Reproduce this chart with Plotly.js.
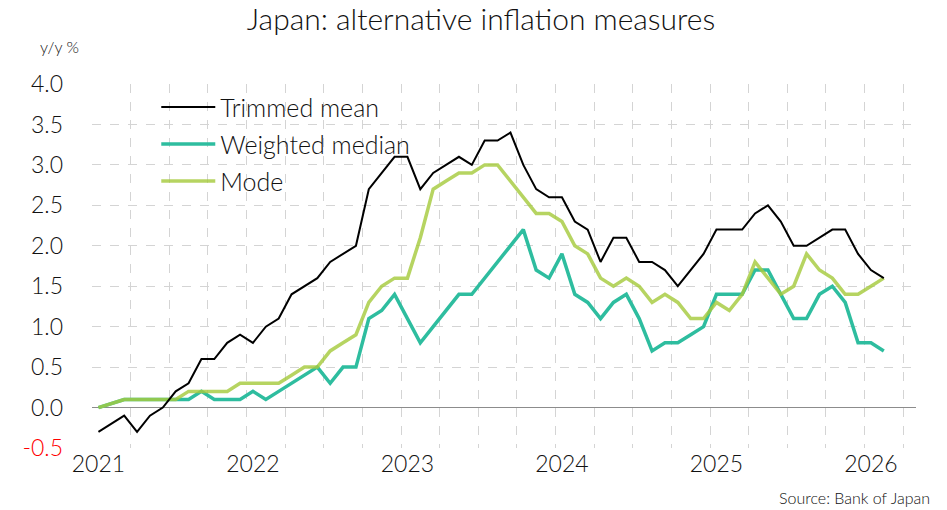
<!DOCTYPE html>
<html>
<head>
<meta charset="utf-8">
<script src="https://cdn.plot.ly/plotly-3.0.1.min.js"></script>
<style>
  html, body { margin: 0; padding: 0; background: #fff; }
  #chart { width: 947px; height: 510px; }
</style>
</head>
<body>
<div id="chart"></div>
<script>
// Monthly observations, Jan 2021 .. Feb 2026 (y/y %)
const months = [
  '2021-01','2021-02','2021-03','2021-04','2021-05','2021-06','2021-07','2021-08','2021-09','2021-10','2021-11','2021-12',
  '2022-01','2022-02','2022-03','2022-04','2022-05','2022-06','2022-07','2022-08','2022-09','2022-10','2022-11','2022-12',
  '2023-01','2023-02','2023-03','2023-04','2023-05','2023-06','2023-07','2023-08','2023-09','2023-10','2023-11','2023-12',
  '2024-01','2024-02','2024-03','2024-04','2024-05','2024-06','2024-07','2024-08','2024-09','2024-10','2024-11','2024-12',
  '2025-01','2025-02','2025-03','2025-04','2025-05','2025-06','2025-07','2025-08','2025-09','2025-10','2025-11','2025-12',
  '2026-01','2026-02'
];

const trimmedMean = [
  -0.3,-0.2,-0.1,-0.3,-0.1,0.0,0.2,0.3,0.6,0.6,0.8,0.9,
  0.8,1.0,1.1,1.4,1.5,1.6,1.8,1.9,2.0,2.7,2.9,3.1,
  3.1,2.7,2.9,3.0,3.1,3.0,3.3,3.3,3.4,3.0,2.7,2.6,
  2.6,2.3,2.2,1.8,2.1,2.1,1.8,1.8,1.7,1.5,1.7,1.9,
  2.2,2.2,2.2,2.4,2.5,2.3,2.0,2.0,2.1,2.2,2.2,1.9,
  1.7,1.6
];

const weightedMedian = [
  0.0,null,0.1,0.1,0.1,0.1,0.1,0.1,0.2,0.1,0.1,0.1,
  0.2,0.1,0.2,0.3,0.4,0.5,0.3,0.5,0.5,1.1,1.2,1.4,
  1.1,0.8,1.0,1.2,1.4,1.4,1.6,1.8,2.0,2.2,1.7,1.6,
  1.9,1.4,1.3,1.1,1.3,1.4,1.1,0.7,0.8,0.8,0.9,1.0,
  1.4,1.4,1.4,1.7,1.7,1.4,1.1,1.1,1.4,1.5,1.3,0.8,
  0.8,0.7
];

const modeSeries = [
  0.0,null,0.1,0.1,0.1,0.1,0.1,0.2,0.2,0.2,0.2,0.3,
  0.3,0.3,0.3,0.4,0.5,0.5,0.7,0.8,0.9,1.3,1.5,1.6,
  1.6,2.1,2.7,2.8,2.9,2.9,3.0,3.0,2.8,2.6,2.4,2.4,
  2.3,2.0,1.9,1.6,1.5,1.6,1.5,1.3,1.4,1.3,1.1,1.1,
  1.3,1.2,1.4,1.8,1.6,1.4,1.5,1.9,1.7,1.6,1.4,1.4,
  1.5,1.6
];

const yearLabels = ['2021','2022','2023','2024','2025','2026'];
const yTickValues = [-0.5,0.0,0.5,1.0,1.5,2.0,2.5,3.0,3.5,4.0];
const yTickLabels = ['<span style="color:#ff0000">-0.5</span>','0.0','0.5','1.0','1.5','2.0','2.5','3.0','3.5','4.0'];

// month index on a linear axis
const xIdx = months.map((m, i) => i);
const yearTickPos = yearLabels.map(y => months.indexOf(y + '-01'));

const FONT = 'Lato, "Open Sans", sans-serif';
const W = 300;
const TXT = '#111111';

const traces = [
  {
    x: xIdx, y: weightedMedian, name: 'Weighted median', type: 'scatter', mode: 'lines',
    connectgaps: true, legendrank: 2, legendgroup: 'b',
    line: { color: 'rgb(46,189,159)', width: 3.5 }
  },
  {
    x: xIdx, y: modeSeries, name: 'Mode', type: 'scatter', mode: 'lines',
    connectgaps: true, legendrank: 3, legendgroup: 'c',
    line: { color: 'rgba(166,203,62,0.82)', width: 3.5 }
  },
  {
    x: xIdx, y: trimmedMean, name: 'Trimmed mean', type: 'scatter', mode: 'lines',
    legendrank: 1, legendgroup: 'a',
    line: { color: '#000000', width: 2 }
  }
];

const layout = {
  width: 947, height: 510,
  margin: { l: 92, r: 31, t: 84, b: 62 },
  paper_bgcolor: '#ffffff', plot_bgcolor: '#ffffff',
  font: { family: FONT, color: TXT, weight: W },
  title: {
    text: 'Japan: alternative inflation measures',
    font: { family: FONT, size: 30, color: TXT, weight: W },
    xref: 'container', x: 0.508, xanchor: 'center',
    yref: 'container', y: 0.962, yanchor: 'middle'
  },
  showlegend: true,
  legend: {
    x: 0.078, y: 0.999, xanchor: 'left', yanchor: 'top',
    bgcolor: 'rgba(0,0,0,0)',
    font: { family: FONT, size: 25, color: TXT, weight: W },
    traceorder: 'grouped', tracegroupgap: 1.5,
    itemwidth: 54
  },
  xaxis: {
    range: [-0.5, 63.5],
    tickmode: 'array', tickvals: yearTickPos, ticktext: yearLabels,
    showgrid: false, zeroline: false, showline: false, ticks: '',
    tickfont: { family: FONT, size: 23, color: TXT, weight: W },
    minor: {
      tickmode: 'linear', tick0: -0.5, dtick: 3,
      showgrid: true, gridcolor: '#d4d4d4', gridwidth: 1, griddash: 'dash', ticks: ''
    },
    fixedrange: true
  },
  yaxis: {
    range: [-0.5, 4.0],
    tickmode: 'array', tickvals: yTickValues, ticktext: yTickLabels,
    showgrid: true, gridcolor: '#d4d4d4', gridwidth: 1, griddash: 'dash',
    zeroline: true, zerolinecolor: '#8c8c8c', zerolinewidth: 1.5,
    showline: false, ticks: '', ticklabelstandoff: 28,
    tickfont: { family: FONT, size: 23, color: TXT, weight: W },
    fixedrange: true
  },
  annotations: [
    {
      text: 'y/y %', xref: 'paper', yref: 'paper', x: -0.066, y: 1.104,
      xanchor: 'left', yanchor: 'middle', showarrow: false,
      font: { family: FONT, size: 16, color: TXT, weight: W }
    },
    {
      text: 'Source: Bank of Japan', xref: 'paper', yref: 'paper', x: 1.019, y: -0.135,
      xanchor: 'right', yanchor: 'middle', showarrow: false,
      font: { family: FONT, size: 16, color: TXT, weight: W }
    }
  ]
};

Plotly.newPlot('chart', traces, layout, { staticPlot: true, displayModeBar: false });
</script>
</body>
</html>
